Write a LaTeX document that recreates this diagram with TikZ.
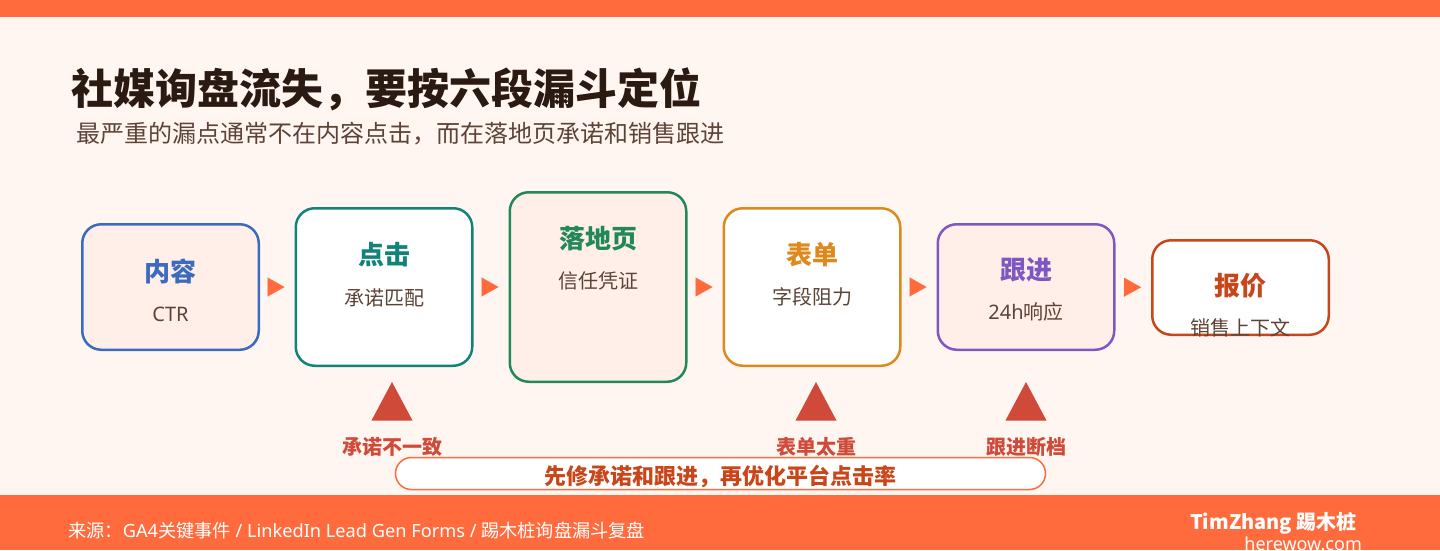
\documentclass[tikz,border=0pt]{standalone}
\usepackage{fontspec}
\setmainfont{Noto Sans CJK SC}
\newfontfamily\lat{Noto Sans}
\usetikzlibrary{arrows.meta,calc}
\definecolor{bg}{HTML}{FFF5F1}
\definecolor{accent}{HTML}{FF6B3D}
\definecolor{pinkfill}{HTML}{FFEFE8}
\definecolor{titlecol}{HTML}{2B1A12}
\definecolor{subcol}{HTML}{5D4336}
\definecolor{cblue}{HTML}{3A6BBF}
\definecolor{cteal}{HTML}{128379}
\definecolor{cgreen}{HTML}{22885A}
\definecolor{corange}{HTML}{DC8A1E}
\definecolor{cpurple}{HTML}{7E57C2}
\definecolor{cred}{HTML}{C8461A}
\definecolor{warnred}{HTML}{CF4A38}
\tikzset{
  stage/.style={draw, line width=2.5pt, rounded corners=19pt, minimum width=176.5pt, inner sep=0pt},
  stitle/.style={font=\fontsize{26}{30}\selectfont\bfseries, inner sep=0pt},
  ssub/.style={font=\fontsize{20}{24}\selectfont, text=subcol, inner sep=0pt},
  flow/.style={line width=0.1pt, draw=accent, -{Triangle[length=17pt,width=19pt]}, shorten <=8pt, shorten >=10pt},
  warn/.style={fill=warnred},
  warnlbl/.style={font=\fontsize{20}{24}\selectfont\bfseries, text=warnred, inner sep=0pt},
  callout/.style={draw=accent, line width=1.5pt, fill=white, rounded corners=16pt, minimum width=650pt, minimum height=32pt, inner sep=0pt},
}
\begin{document}
\begin{tikzpicture}[x=1pt,y=-1pt]
\useasboundingbox (0,0) rectangle (1440,550);
\fill[bg] (0,0) rectangle (1440,550);
\fill[accent] (0,0) rectangle (1440,17);
\fill[accent] (0,495) rectangle (1440,550);

\node[anchor=west, inner sep=0pt, text=titlecol, font=\fontsize{42}{48}\selectfont\bfseries] (title) at (71,89) {社媒询盘流失，要按六段漏斗定位};
\node[anchor=west, inner sep=0pt, text=subcol, font=\fontsize{24}{28}\selectfont] (subtitle) at (76,134) {最严重的漏点通常不在内容点击，而在落地页承诺和销售跟进};

\node[stage, draw=cblue, fill=pinkfill, minimum height=125.5pt] (b1) at (170.5,287) {};
\node[stage, draw=cteal, fill=white, minimum height=157.5pt] (b2) at (384,287) {};
\node[stage, draw=cgreen, fill=pinkfill, minimum height=189.5pt] (b3) at (598,287) {};
\node[stage, draw=corange, fill=white, minimum height=157.5pt] (b4) at (812,287) {};
\node[stage, draw=cpurple, fill=pinkfill, minimum height=125.5pt] (b5) at (1026,287) {};
\node[stage, draw=cred, fill=white, minimum height=94.5pt] (b6) at (1240.5,287.5) {};

\node[stitle, text=cblue] (t1) at ($(b1.north)+(0,48)$) {内容};
\node[ssub] (s1) at ($(b1.north)+(0,91)$) {\lat CTR};
\node[stitle, text=cteal] (t2) at ($(b2.north)+(0,48)$) {点击};
\node[ssub] (s2) at ($(b2.north)+(0,91)$) {承诺匹配};
\node[stitle, text=cgreen] (t3) at ($(b3.north)+(0,48)$) {落地页};
\node[ssub] (s3) at ($(b3.north)+(0,90)$) {信任凭证};
\node[stitle, text=corange] (t4) at ($(b4.north)+(0,48)$) {表单};
\node[ssub] (s4) at ($(b4.north)+(0,90)$) {字段阻力};
\node[stitle, text=cpurple] (t5) at ($(b5.north)+(0,47)$) {跟进};
\node[ssub] (s5) at ($(b5.north)+(0,89)$) {{\lat 24h}响应};
\node[stitle, text=cred] (t6) at ($(b6.north)+(0,47)$) {报价};
\node[ssub] (s6) at ($(b6.north)+(0,89)$) {销售上下文};

\draw[flow] (b1) -- (b2);
\draw[flow] (b2) -- (b3);
\draw[flow] (b3) -- (b4);
\draw[flow] (b4) -- (b5);
\draw[flow] (b5) -- (b6);

\fill[warn] (392,382) -- (371.5,420.5) -- (412.5,420.5) -- cycle;
\fill[warn] (816,382) -- (795.5,420.5) -- (836.5,420.5) -- cycle;
\fill[warn] (1026,382) -- (1005.5,420.5) -- (1046.5,420.5) -- cycle;
\node[warnlbl] (w1) at (392,447) {承诺不一致};
\node[warnlbl] (w2) at (816,447) {表单太重};
\node[warnlbl] (w3) at (1026,447) {跟进断档};

\node[callout] (fix) at (720.5,473.5) {};
\node[inner sep=0pt, text=cred, font=\fontsize{22}{26}\selectfont\bfseries] (fixtext) at (720,476.5) {先修承诺和跟进，再优化平台点击率};

\node[anchor=west, inner sep=0pt, text=white, font=\fontsize{18.2}{22}\selectfont] (src) at (68,531) {来源：{\lat GA4}关键事件{\lat\ / LinkedIn Lead Gen Forms / }踢木桩询盘漏斗复盘};
\node[anchor=east, inner sep=0pt, text=white, font=\fontsize{20}{24}\selectfont\bfseries] (brand) at (1357,523) {TimZhang 踢木桩};
\node[anchor=east, inner sep=0pt, text=white, font=\fontsize{18}{22}\selectfont] (site) at (1362,544) {\lat herewow.com};
\end{tikzpicture}
\end{document}
